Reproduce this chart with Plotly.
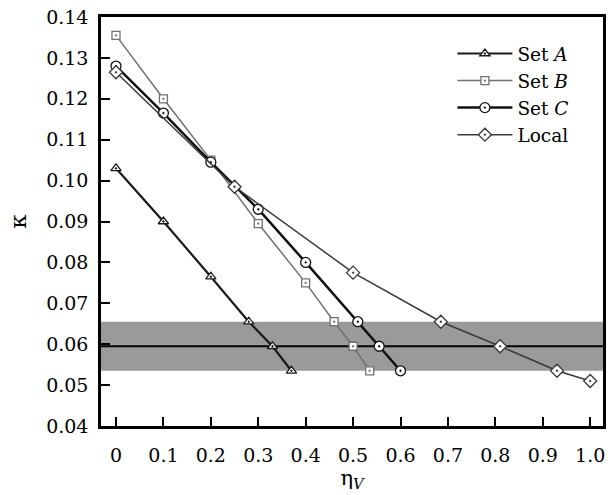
import plotly.graph_objects as go

eta_A = [0, 0.1, 0.2, 0.28, 0.33, 0.37]
kap_A = [0.103, 0.090, 0.0765, 0.0655, 0.0595, 0.0535]
eta_B = [0, 0.1, 0.2, 0.3, 0.4, 0.46, 0.5, 0.535]
kap_B = [0.1355, 0.120, 0.105, 0.0895, 0.075, 0.0655, 0.0595, 0.0535]
eta_C = [0, 0.1, 0.2, 0.3, 0.4, 0.51, 0.555, 0.6]
kap_C = [0.128, 0.1165, 0.1045, 0.093, 0.080, 0.0655, 0.0595, 0.0535]
eta_L = [0, 0.25, 0.5, 0.685, 0.81, 0.93, 1.0]
kap_L = [0.1265, 0.0985, 0.0775, 0.0655, 0.0595, 0.0535, 0.051]
band_low, band_high, band_mid = 0.0535, 0.0655, 0.0595
x_ticks = [0, 0.1, 0.2, 0.3, 0.4, 0.5, 0.6, 0.7, 0.8, 0.9, 1.0]
x_labels = ["0", "0.1", "0.2", "0.3", "0.4", "0.5", "0.6", "0.7", "0.8", "0.9", "1.0"]
y_ticks = [0.04, 0.05, 0.06, 0.07, 0.08, 0.09, 0.10, 0.11, 0.12, 0.13, 0.14]
y_labels = ["0.04", "0.05", "0.06", "0.07", "0.08", "0.09", "0.10", "0.11", "0.12", "0.13", "0.14"]

FONT = "DejaVu Serif"
TICKFONT = dict(family=FONT, size=19, color="black")
fig = go.Figure()

fig.add_hrect(y0=band_low, y1=band_high, fillcolor="#9a9a9a", opacity=1, line_width=0, layer="below")
fig.add_hline(y=band_mid, line=dict(color="black", width=1.8), layer="below")

series = [
    ("Set <i>A</i>", eta_A, kap_A, "#1a1a1a", 2.2, "triangle-up-dot", 9),
    ("Set <i>B</i>", eta_B, kap_B, "#707070", 1.5, "square-dot", 8),
    ("Set <i>C</i>", eta_C, kap_C, "#111111", 2.5, "circle-dot", 10),
    ("Local", eta_L, kap_L, "#3a3a3a", 1.5, "diamond-dot", 10),
]
for name, x, y, col, w, sym, sz in series:
    fig.add_trace(go.Scatter(
        x=x, y=y, name=name, mode="lines+markers",
        line=dict(color=col, width=w),
        marker=dict(symbol=sym, size=sz, color="white", line=dict(width=1.3, color=col)),
    ))

fig.update_layout(
    width=608, height=495,
    margin=dict(l=101, r=5, t=17, b=69),
    plot_bgcolor="white", paper_bgcolor="white",
    font=dict(family=FONT, size=19, color="black"),
    showlegend=True,
    legend=dict(x=0.70, y=0.956, xanchor="left", yanchor="top",
                bgcolor="rgba(0,0,0,0)", font=dict(size=18.5, family=FONT, color="black"),
                itemwidth=55, tracegroupgap=0),
    xaxis=dict(range=[-0.0316, 1.027], tickvals=x_ticks, ticktext=x_labels,
               tickfont=TICKFONT, automargin=False, ticklabelstandoff=10,
               ticks="inside", ticklen=9, tickwidth=2, tickcolor="black",
               showline=True, linewidth=2.5, linecolor="black", mirror=True,
               showgrid=False, zeroline=False,
               title=dict(text="η<sub><i>V</i></sub>", standoff=4,
                          font=dict(size=21, family=FONT, color="black"))),
    yaxis=dict(range=[0.04, 0.14], tickvals=y_ticks, ticktext=y_labels,
               tickfont=TICKFONT, automargin=False, ticklabelstandoff=6,
               ticks="inside", ticklen=9, tickwidth=2, tickcolor="black",
               showline=True, linewidth=2.5, linecolor="black", mirror=True,
               showgrid=False, zeroline=False,
               title=dict(text="κ", standoff=14,
                          font=dict(size=23, family=FONT, color="black"))),
)
fig.write_html("out.html")
